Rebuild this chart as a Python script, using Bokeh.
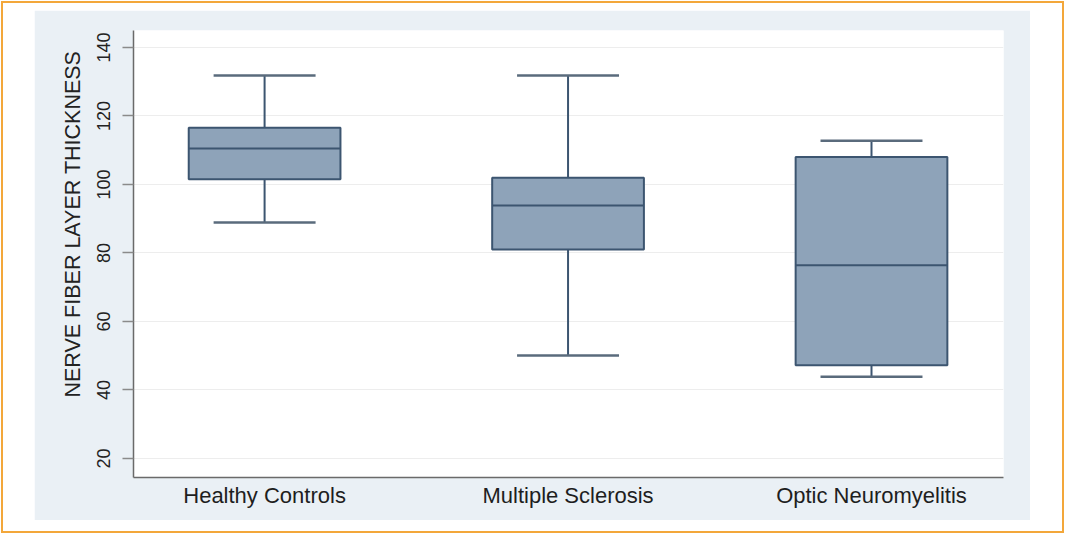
from bokeh.plotting import figure
from bokeh.models import Range1d, FixedTicker, ColumnDataSource
from bokeh.layouts import column
from bokeh.embed import file_html
from bokeh.resources import INLINE

# ---- data ----
groups = ["Healthy Controls", "Multiple Sclerosis", "Optic Neuromyelitis"]
upper_whisker = [131.8, 131.8, 112.8]
q3 = [116.6, 102.0, 108.0]
median = [110.5, 93.9, 76.4]
q1 = [101.5, 81.0, 47.2]
lower_whisker = [88.9, 50.1, 43.9]
y_ticks = [20, 40, 60, 80, 100, 120, 140]
y_title = "NERVE FIBER LAYER THICKNESS"

# ---- styling ----
FONT = "Liberation Sans"
BOX_FILL = "#8ea3b9"
BOX_LINE = "#3c5570"
CAP_LINE = "#5a6b7c"
BG = "#eaf0f5"

xs = list(range(1, len(groups) + 1))
box_w = 0.5
cap_w = 0.336

src = ColumnDataSource(dict(
    x=xs,
    up=upper_whisker, q3=q3, med=median, q1=q1, lo=lower_whisker,
    box_l=[x - box_w / 2 for x in xs], box_r=[x + box_w / 2 for x in xs],
    cap_l=[x - cap_w / 2 for x in xs], cap_r=[x + cap_w / 2 for x in xs],
))

p = figure(width=996, height=510,
           x_range=Range1d(0.568, 3.435), y_range=Range1d(14.45, 144.96),
           output_backend="svg", toolbar_location=None,
           min_border_left=99, min_border_right=27,
           min_border_top=20, min_border_bottom=43,
           background_fill_color="white", border_fill_color=BG,
           outline_line_color=None, margin=(10, 0, 0, 34))

# whisker stems
p.segment(x0="x", y0="q3", x1="x", y1="up", source=src, line_color=BOX_LINE, line_width=2)
p.segment(x0="x", y0="q1", x1="x", y1="lo", source=src, line_color=BOX_LINE, line_width=2)
# caps
p.segment(x0="cap_l", y0="up", x1="cap_r", y1="up", source=src, line_color=CAP_LINE, line_width=2.5)
p.segment(x0="cap_l", y0="lo", x1="cap_r", y1="lo", source=src, line_color=CAP_LINE, line_width=2.5)
# boxes
p.vbar(x="x", width=box_w, bottom="q1", top="q3", source=src,
       fill_color=BOX_FILL, line_color=BOX_LINE, line_width=2)
# medians
p.segment(x0="box_l", y0="med", x1="box_r", y1="med", source=src, line_color=BOX_LINE, line_width=2)

# axes
p.xaxis.ticker = FixedTicker(ticks=xs)
p.xaxis.major_label_overrides = {x: g for x, g in zip(xs, groups)}
p.xaxis.major_tick_out = 0
p.xaxis.major_tick_in = 0
p.xaxis.minor_tick_out = 0
p.xaxis.minor_tick_in = 0
p.xaxis.major_label_standoff = 5
p.xaxis.major_label_text_font = FONT
p.xaxis.major_label_text_font_size = "22px"
p.xaxis.major_label_text_color = "#1e1e1e"
p.xaxis.axis_line_color = "#6a6a6a"
p.xaxis.axis_line_width = 1.5

p.yaxis.ticker = FixedTicker(ticks=y_ticks)
p.yaxis.major_label_orientation = "vertical"
p.yaxis.major_tick_out = 11
p.yaxis.major_tick_in = 0
p.yaxis.minor_tick_out = 0
p.yaxis.minor_tick_in = 0
p.yaxis.major_tick_line_color = "#8a8a8a"
p.yaxis.major_tick_line_width = 1.5
p.yaxis.major_label_standoff = 12
p.yaxis.major_label_text_font = FONT
p.yaxis.major_label_text_font_size = "18px"
p.yaxis.major_label_text_color = "#222222"
p.yaxis.axis_line_color = "#6a6a6a"
p.yaxis.axis_line_width = 1.5
p.yaxis.axis_label = "\u00a0" * 10 + y_title
p.yaxis.axis_label_text_font = FONT
p.yaxis.axis_label_text_font_size = "21.5px"
p.yaxis.axis_label_text_font_style = "normal"
p.yaxis.axis_label_text_color = "#222222"
p.yaxis.axis_label_standoff = 10

p.xgrid.grid_line_color = None
p.ygrid.grid_line_color = "#ededed"
p.ygrid.grid_line_width = 1

layout = column(p, width=1065, height=534,
                styles={"outline": "2px solid #f3a73a", "outline-offset": "-3px"})

open("out.html", "w").write(file_html(layout, INLINE))
